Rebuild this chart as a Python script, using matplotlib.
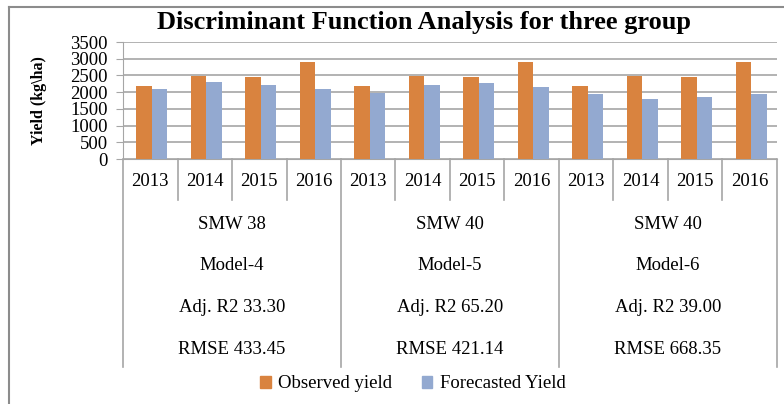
import matplotlib
matplotlib.use("Agg")
import matplotlib.pyplot as plt
from matplotlib.transforms import blended_transform_factory
from matplotlib.lines import Line2D
from matplotlib.patches import Patch

years = ["2013", "2014", "2015", "2016"]
groups = [
    ["SMW 38", "Model-4", "Adj. R2 33.30", "RMSE 433.45"],
    ["SMW 40", "Model-5", "Adj. R2 65.20", "RMSE 421.14"],
    ["SMW 40", "Model-6", "Adj. R2 39.00", "RMSE 668.35"],
]
observed = [2170, 2490, 2440, 2900, 2170, 2490, 2440, 2900, 2170, 2490, 2440, 2900]
forecasted = [2100, 2290, 2220, 2080, 1970, 2220, 2270, 2150, 1930, 1780, 1860, 1950]
yticks = [0, 500, 1000, 1500, 2000, 2500, 3000, 3500]

plt.rcParams['font.family'] = ['Liberation Serif', 'DejaVu Serif']

W, H = 784, 404
fig = plt.figure(figsize=(W / 100, H / 100), dpi=100)

def fy(p):
    return 1 - p / H

L, R, T, B = 123, 777, 42, 159
ax = fig.add_axes([L / W, fy(B), (R - L) / W, (B - T) / H])

n = len(observed)
xs = list(range(n))
bw = 0.285
ax.bar([x - bw / 2 + 0.03 for x in xs], observed, width=bw, color="#D9833F", label="Observed yield", zorder=3)
ax.bar([x + bw / 2 + 0.03 for x in xs], forecasted, width=bw, color="#93A9D0", label="Forecasted Yield", zorder=3)

ax.set_xlim(-0.5, n - 0.5)
ax.set_ylim(0, 3500)
ax.set_yticks(yticks)
ax.set_yticklabels([str(v) for v in yticks], fontsize=13.5)
ax.set_xticks([])
ax.grid(axis="y", color="#A6A6A6", linewidth=1.2, zorder=0)
for s in ["top", "right"]:
    ax.spines[s].set_visible(False)
ax.spines["left"].set_color("#A6A6A6")
ax.spines["bottom"].set_color("#A6A6A6")
ax.tick_params(axis="y", length=5, color="#A6A6A6", pad=6)
ax.set_ylabel("Yield (kg\\ha)", fontsize=11.5, fontweight="bold")
ax.yaxis.set_label_coords((47 - L) / (R - L), 0.5)

tr = blended_transform_factory(ax.transData, fig.transFigure)
gray = "#A6A6A6"
for k in range(n + 1):
    x = k - 0.5
    y2 = 367 if k % 4 == 0 else 200
    fig.add_artist(Line2D([x, x], [fy(B), fy(y2)], transform=tr, color=gray, linewidth=1.2))
for i in range(n):
    fig.text(i, fy(182), years[i % 4], transform=tr, ha="center", va="center", fontsize=13.5)
rows_y = [224, 266, 307, 349]
for g, labels in enumerate(groups):
    cx = g * 4 + 1.5
    for lab, yy in zip(labels, rows_y):
        fig.text(cx, fy(yy), lab, transform=tr, ha="center", va="center", fontsize=13.5)

fig.text(424 / W, fy(22), "Discriminant Function Analysis for three group", ha="center", va="center",
         fontsize=19, fontweight="bold")

fig.add_artist(Line2D([9 / W, 9 / W], [fy(7), 0], transform=fig.transFigure, color="#8C8C8C", linewidth=1.5))
fig.add_artist(Line2D([9 / W, 1], [fy(7), fy(7)], transform=fig.transFigure, color="#8C8C8C", linewidth=1.5))

handles = [Patch(color="#D9833F"), Patch(color="#93A9D0")]
fig.legend(handles, ["Observed yield", "Forecasted Yield"], loc="center", bbox_to_anchor=(413 / W, fy(384)),
           ncol=2, frameon=False, fontsize=13.5, handlelength=0.55, handleheight=0.55, handletextpad=0.4,
           columnspacing=1.6)

fig.savefig("out.png", dpi=100)
